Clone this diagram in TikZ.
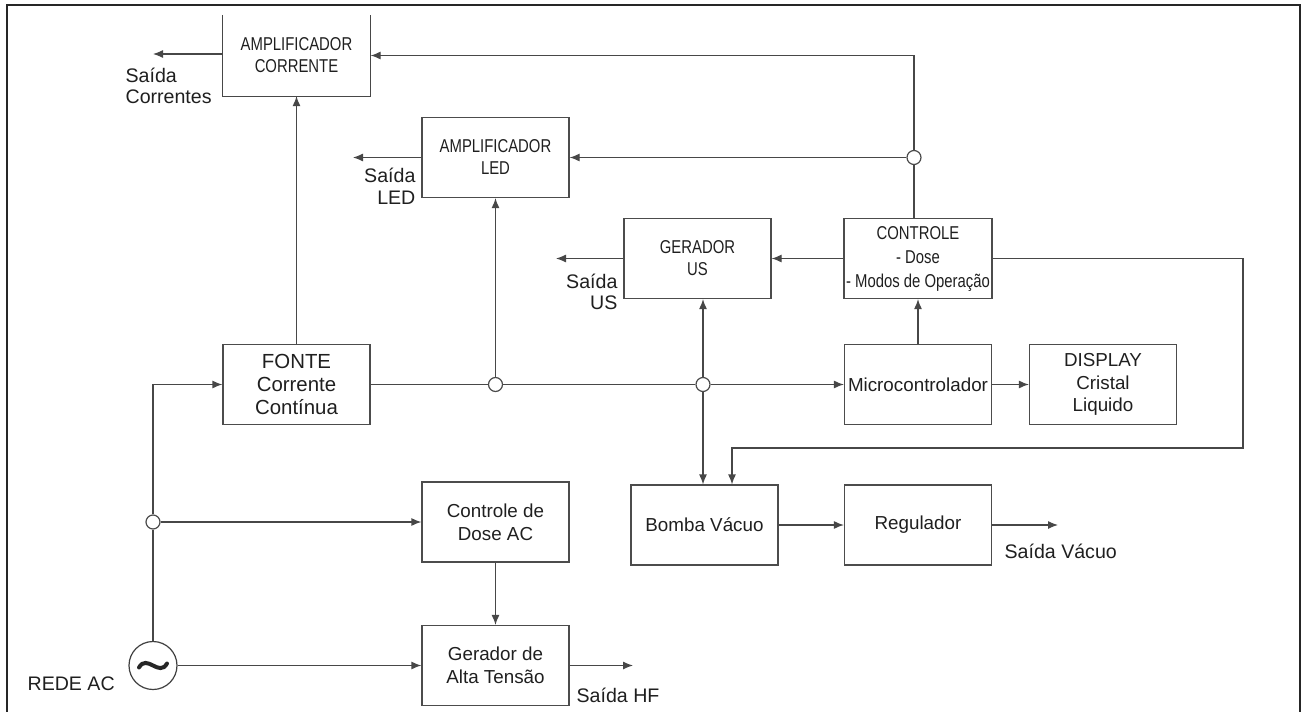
\documentclass[tikz,border=0pt]{standalone}
\usepackage{amsmath}
\usepackage{fontspec}
\setmainfont{Liberation Sans}
\newfontfamily\narrowfont[FakeStretch=0.8]{Liberation Sans}
\usetikzlibrary{arrows.meta}

\begin{document}
\begin{tikzpicture}[x=0.5pt, y=-0.5pt, >={Latex[length=5pt,width=4pt]},
    line width=0.6pt, color=black!72, text=black!88,
    bloco/.style={draw=black!70, minimum width=73.5pt, minimum height=40pt,
        inner sep=1pt, align=center, font=\fontsize{9.4}{11.3}\selectfont},
    blocoN/.style={bloco, font=\narrowfont\fontsize{9.3}{11}\selectfont},
    juncao/.style={circle, draw=black!70, fill=white, minimum size=7pt, inner sep=0pt},
    rotulo/.style={inner sep=0pt, font=\fontsize{9.8}{10.8}\selectfont}]
            \useasboundingbox (0,0) rectangle (1302,712);
            % ==== FRAME ====
            \draw[line width=1.2pt, black!85] (7,716) -- (7,5) -- (1300,5) -- (1300,716);

            % ==== BLOCKS ====
            \node[blocoN, draw=none] (ampcor) at (296.5,55.5) {AMPLIFICADOR\\CORRENTE};
            \draw (ampcor.north west) -- (ampcor.south west) -- (ampcor.south east) -- (ampcor.north east);
            \node[blocoN] (ampled) at (495.5,157.5) {AMPLIFICADOR\\LED};
            \node[blocoN] (gerus) at (697.5,258.5) {GERADOR\\US};
            \node[blocoN, font=\narrowfont\fontsize{9.3}{12}\selectfont] (ctrl) at (918,258.5)
                {CONTROLE\\- Dose\\- Modos de Operação};
            \node[bloco, font=\fontsize{10.2}{11.5}\selectfont] (fonte) at (296.5,384.5)
                {FONTE\\Corrente\\Contínua};
            \node[bloco] (micro) at (918,384.5) {Microcontrolador};
            \node[bloco] (disp) at (1103,384.5) {DISPLAY\\Cristal\\Liquido};
            \node[bloco] (dosac) at (495.5,522) {Controle de\\Dose AC};
            \node[bloco] (alta) at (495.5,665.5) {Gerador de\\Alta Tensão};
            \node[bloco] (bomba) at (704.5,525) {Bomba Vácuo};
            \node[bloco] (reg) at (918,525) {Regulador};

            % ==== SOURCE AND JUNCTIONS ====
            \node[circle, draw=black!75, minimum size=24pt, inner sep=0pt] (rede) at (153,665.5) {};
            \draw[line width=2pt, black!85, line cap=round]
                ([shift={(-14,2)}]rede.center) .. controls ([shift={(-6,-12)}]rede.center)
                and ([shift={(6,12)}]rede.center) .. ([shift={(14,-2)}]rede.center);
            \node[rotulo, anchor=west] (rederot) at (27,684) {REDE AC};
            \node[juncao] (jac) at (153,522) {};
            \node[juncao] (jled) at (495.5,384.5) {};
            \node[juncao] (jus) at (703,384.5) {};
            \node[juncao] (jctl) at (914,157.5) {};

            % ==== FREE ENDS ====
            \coordinate (saicor) at (153,54);
            \coordinate (sailed) at (353,157.5);
            \coordinate (saius) at (556,258.5);
            \coordinate (saihf) at (633,665.5);
            \coordinate (saivac) at (1058,525);
            \coordinate (volta) at (1243,448);

            % ==== AC SIDE ====
            \draw (rede) -- (jac);
            \draw[->] (jac) |- (fonte.west);
            \draw[->] (jac) -- (dosac.west);
            \draw[->] (rede) -- (alta.west);
            \draw[->] (dosac) -- (alta);
            \draw[->] (alta.east) -- (saihf);

            % ==== DC BUS ====
            \draw (fonte.east) -- (jled);
            \draw (jled) -- (jus);
            \draw[->] (jus) -- (micro.west);
            \draw[->] (fonte) -- (ampcor);
            \draw[->] (jled) -- (ampled.south);
            \draw[->] (jus) -- (jus |- gerus.south);
            \draw[->] (jus) -- (jus |- bomba.north);

            % ==== CONTROL ====
            \draw[->] (micro) -- (ctrl);
            \draw[->] (micro) -- (disp);
            \draw[->] (ctrl) -- (gerus);
            \draw ([xshift=-2pt]ctrl.north) -- (jctl);
            \draw[->] (jctl) -- (ampled.east);
            \draw[->] (jctl) |- (ampcor.east);
            \draw[->] (ctrl.east) -| (volta) -| ([xshift=13.75pt]bomba.north);
            \draw[->] (bomba) -- (reg);

            % ==== OUTPUTS ====
            \draw[->] (ampcor.west |- saicor) -- (saicor);
            \draw[->] (ampled.west) -- (sailed);
            \draw[->] (gerus.west) -- (saius);
            \draw[->] (reg.east) -- (saivac);
            \node[rotulo, anchor=west, align=left] (saicorrot) at (125,86) {Saída\\Correntes};
            \node[rotulo, anchor=east, align=right] (sailedrot) at (416,186) {Saída\\LED};
            \node[rotulo, anchor=east, align=right] (saiusrot) at (618,292) {Saída\\US};
            \node[rotulo, anchor=west] (saihfrot) at (576,695) {Saída HF};
            \node[rotulo, anchor=west] (saivacrot) at (1004,551) {Saída Vácuo};
\end{tikzpicture}
\end{document}
